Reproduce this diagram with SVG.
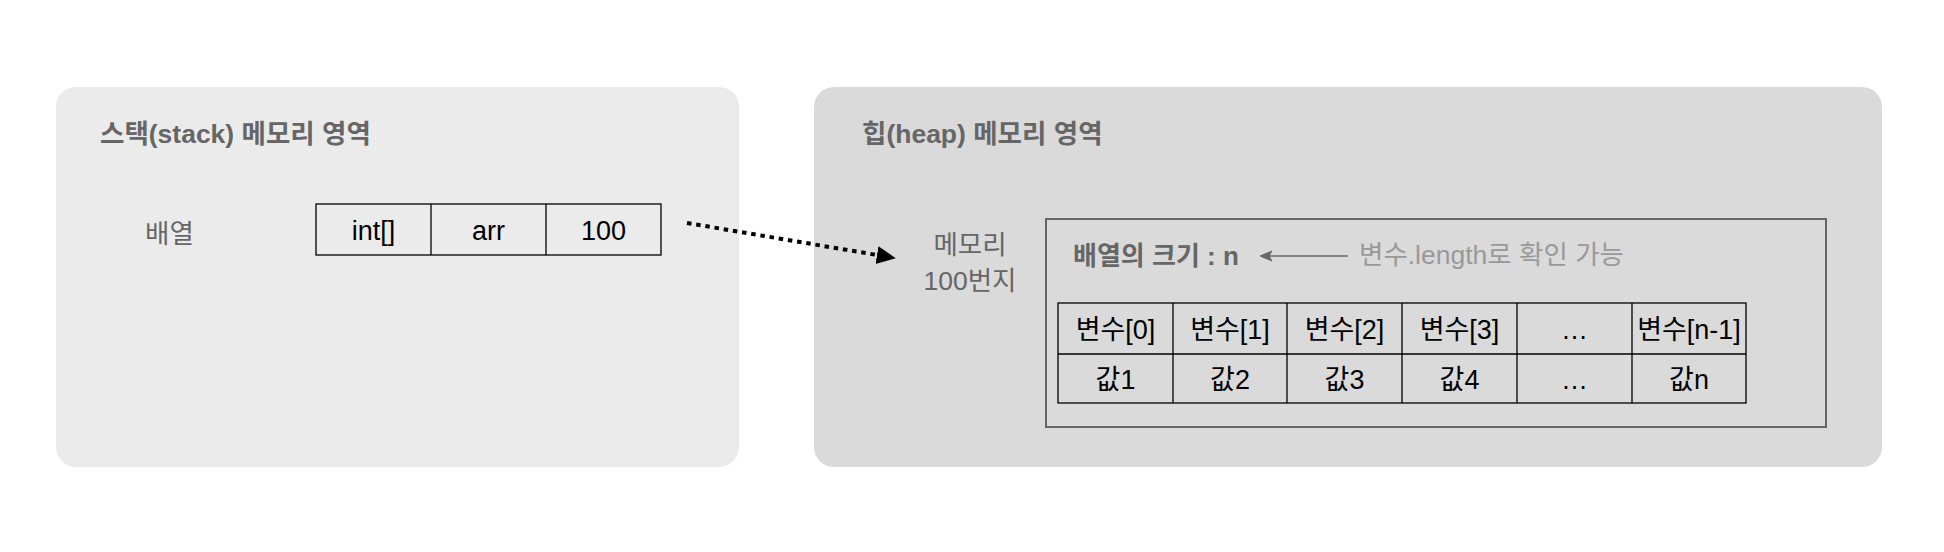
<svg xmlns="http://www.w3.org/2000/svg" width="1944" height="552" viewBox="0 0 1944 552">
<style>
  text { font-family: "Liberation Sans", "Noto Sans CJK KR", sans-serif; }
  .title { font-size: 26.5px; font-weight: bold; fill: #666666; }
  .sub { font-size: 26px; font-weight: bold; fill: #666666; }
  .hint { font-size: 26.5px; fill: #999999; }
  .lbl { font-size: 26.5px; fill: #666666; text-anchor: middle; }
  .cell { font-size: 27px; fill: #000000; text-anchor: middle; }
  .grid { fill: none; stroke: #000000; stroke-width: 1.3; }
</style>
<defs>
  <marker id="bigHead" markerUnits="userSpaceOnUse" markerWidth="20" markerHeight="20" refX="0" refY="9" orient="auto">
    <path d="M0,0 L19,9 L0,18 Z" fill="#000000"/>
  </marker>
</defs>
<rect width="1944" height="552" fill="#ffffff"/>

<g id="stack-area">
  <rect x="56" y="87" width="683" height="380" rx="20" ry="20" fill="#ebebeb"/>
  <text class="title" x="100" y="143">스택(stack) 메모리 영역</text>
  <text class="lbl" x="169.5" y="243">배열</text>
</g>

<g id="stack-array">
  <rect class="grid" x="316" y="204" width="345" height="51"/>
  <line class="grid" x1="431" y1="204" x2="431" y2="255"/>
  <line class="grid" x1="546" y1="204" x2="546" y2="255"/>
  <text class="cell" x="373.5" y="239.5">int[]</text>
  <text class="cell" x="488.5" y="239.5">arr</text>
  <text class="cell" x="603.5" y="239.5">100</text>
</g>

<g id="heap-area">
  <rect x="814" y="87" width="1068" height="380" rx="20" ry="20" fill="#dadada"/>
  <text class="title" x="862" y="143">힙(heap) 메모리 영역</text>
  <text class="lbl" x="970" y="254">메모리</text>
  <text class="lbl" x="970" y="290">100번지</text>
</g>

<g id="heap-array">
  <rect x="1046" y="219" width="780" height="208" fill="none" stroke="#666666" stroke-width="2"/>
  <text class="sub" x="1073" y="265">배열의 크기 : n</text>
  <text class="hint" x="1359" y="264">변수.length로 확인 가능</text>
  <rect class="grid" x="1058" y="303" width="688" height="100"/>
  <line class="grid" x1="1058" y1="354" x2="1746" y2="354"/>
  <line class="grid" x1="1173" y1="303" x2="1173" y2="403"/>
  <line class="grid" x1="1287" y1="303" x2="1287" y2="403"/>
  <line class="grid" x1="1402" y1="303" x2="1402" y2="403"/>
  <line class="grid" x1="1517" y1="303" x2="1517" y2="403"/>
  <line class="grid" x1="1632" y1="303" x2="1632" y2="403"/>
  <text class="cell" x="1115.5" y="338.5">변수[0]</text>
  <text class="cell" x="1230" y="338.5">변수[1]</text>
  <text class="cell" x="1344.5" y="338.5">변수[2]</text>
  <text class="cell" x="1459.5" y="338.5">변수[3]</text>
  <text class="cell" x="1574.5" y="338.5">…</text>
  <text class="cell" x="1689" y="338.5">변수[n-1]</text>
  <text class="cell" x="1115.5" y="388.5">값1</text>
  <text class="cell" x="1230" y="388.5">값2</text>
  <text class="cell" x="1344.5" y="388.5">값3</text>
  <text class="cell" x="1459.5" y="388.5">값4</text>
  <text class="cell" x="1574.5" y="388.5">…</text>
  <text class="cell" x="1689" y="388.5">값n</text>
</g>

<g id="connectors">
  <path d="M687,223 L877,255" fill="none" stroke="#000000" stroke-width="4" stroke-dasharray="4.5 4.8" marker-end="url(#bigHead)"/>
  <line x1="1348" y1="256" x2="1268" y2="256" stroke="#666666" stroke-width="1.5"/>
  <path d="M1260,256 L1272,251 L1269,256 L1272,261 Z" fill="#666666" stroke="#666666" stroke-width="1"/>
</g>
</svg>
